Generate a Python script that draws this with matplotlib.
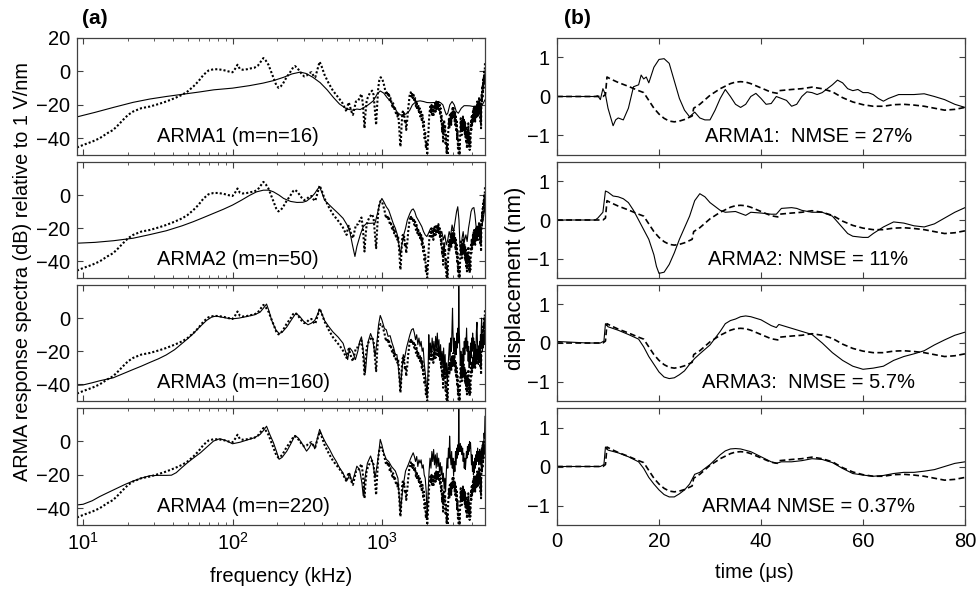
# %% Modules

import matplotlib
matplotlib.use("Agg")
import matplotlib.pyplot as plt
from matplotlib.ticker import LogLocator, NullFormatter, FixedLocator

plt.rcParams["font.family"] = ["Liberation Sans", "DejaVu Sans"]
plt.rcParams["mathtext.fontset"] = "custom"
plt.rcParams["mathtext.rm"] = "Liberation Sans"
plt.rcParams["mathtext.it"] = "Liberation Sans:italic"

# %% Data: (a) response spectra, frequency in kHz, level in dB

freq_meas = [9.1, 10, 11.5, 12.9, 14.5, 15.9, 17.2, 18.5, 20, 21.6, 24.5, 28, 32, 36, 41, 46, 50, 54.7, 59, 64,
             69, 74.6, 80, 87, 94, 100, 104, 108, 112, 117, 125, 132, 140, 148, 155, 161, 167, 174, 181, 188,
             196, 203, 210, 217, 230, 243, 255, 262, 272, 290, 302, 313, 325, 338, 348, 358, 370, 383, 395, 413,
             440, 470, 500, 520, 545, 565, 580, 592, 600, 612, 625, 640, 655, 670, 695, 715, 730, 745, 755, 765,
             775, 790, 805, 830, 860, 880, 900, 915, 930, 945, 960, 980,
             1000, 1010, 1025, 1040, 1055, 1070, 1085, 1100, 1115, 1130, 1145, 1160, 1175, 1190, 1205, 1220, 1240, 1255, 1270, 1285,
             1300, 1315, 1330, 1340, 1350, 1365, 1380, 1395, 1410, 1425, 1440, 1455, 1470, 1485, 1500, 1515, 1530, 1545, 1560, 1575,
             1590, 1610, 1630, 1650, 1670, 1690, 1710, 1730, 1750, 1770, 1790, 1810, 1830, 1850, 1870, 1890, 1910, 1930, 1950, 1970,
             1990, 2010, 2030, 2050, 2070, 2090, 2110, 2130, 2150, 2170, 2190, 2210, 2230, 2250, 2270, 2290, 2310, 2330, 2350, 2370,
             2390, 2410, 2430, 2450, 2470, 2490, 2510, 2530, 2550, 2570, 2590, 2610, 2630, 2650, 2670, 2690, 2710, 2730, 2750, 2770,
             2790, 2810, 2830, 2850, 2870, 2890, 2910, 2930, 2950, 2970, 2990, 3010, 3030, 3050, 3070, 3090, 3110, 3130, 3150, 3170,
             3190, 3210, 3230, 3250, 3270, 3290, 3310, 3330, 3350, 3370, 3390, 3410, 3430, 3450, 3470, 3490, 3510, 3530, 3550, 3570,
             3590, 3610, 3630, 3650, 3670, 3690, 3710, 3730, 3750, 3770, 3790, 3810, 3830, 3850, 3870, 3890, 3910, 3930, 3950, 3970,
             3990, 4010, 4030, 4050, 4070, 4090, 4110, 4130, 4150, 4170, 4190, 4210, 4230, 4250, 4270, 4290, 4310, 4330, 4350, 4370,
             4390, 4410, 4430, 4450, 4470, 4490, 4510, 4530, 4550, 4570, 4590, 4610, 4630, 4650, 4670, 4690, 4710, 4730, 4750, 4770,
             4790, 4810, 4830, 4850, 4870, 4890, 4900]
db_meas = [-45.5, -44, -42, -40, -37, -35, -32, -29, -26, -24, -22, -21, -19.5, -18, -16, -14, -12, -9, -6, -2,
           0.5, 1.3, 1.3, 0.8, 0, -0.5, 1.5, 4, 1.5, 1, 1.3, 1.8, 2.2, 3.5, 6, 8, 6.5, 4, 0, -4,
           -8, -9.8, -9, -7.5, -3.5, -0.5, 2.5, 3.2, 2, -1.5, -3, -2.5, -1, -0.5, -2.5, -3.5, 1, 5.8, 3, -2,
           -7, -11.5, -14.5, -16.5, -19, -22, -24, -20, -18.5, -21, -24, -26, -22, -18, -17.5, -15, -13.5, -19, -27, -34,
           -26, -18, -15.5, -13, -11.5, -14, -24, -32, -20, -10, -5.5, -3.5,
           -4, -5, -7, -9, -12, -14, -12, -15, -13, -18, -16, -19, -21, -19, -23, -21, -25, -24, -27, -25,
           -31, -38, -45, -42, -35, -27, -24, -27, -25, -31, -29, -35, -31, -27, -22, -19, -15, -13, -12.5, -15,
           -13, -16, -14, -18, -16, -21, -18, -23, -20, -25, -22, -27, -24, -30, -26, -34, -30, -40, -36, -46,
           -42, -50, -44, -36, -28, -24, -21, -25, -20, -26, -21, -27, -20, -25, -19, -24, -18, -23, -18, -22,
           -17.5, -23, -19, -26, -22, -30, -26, -36, -31, -42, -35, -29, -37, -32, -44, -38, -49, -43, -50, -40,
           -33, -28, -34, -26, -31, -25, -32, -24, -29, -22, -27, -21, -28, -23, -30, -25, -33, -27, -36, -30,
           -41, -35, -46, -40, -50, -44, -50, -42, -34, -28, -36, -30, -38, -29, -35, -27, -34, -28, -36, -30,
           -38, -31, -40, -33, -43, -36, -46, -38, -35, -41, -31, -39, -45, -37, -47, -40, -45, -36, -30, -35,
           -27, -33, -26, -31, -24, -30, -22, -28, -21, -29, -22, -30, -23, -27, -20, -28, -22, -26, -18, -25,
           -19, -27, -20, -24, -16, -23, -17, -25, -19, -30, -22, -34, -20, -14, -18, -10, -16, -8, -13, -5,
           -10, -3, -7, 0, -4, 3, 5]

freq_arma1 = [9.1, 12, 16, 21.6, 28, 36, 46, 60, 75, 100, 130, 160, 188, 220, 250, 284, 310, 345, 386, 430,
              474, 520, 582, 640, 680, 716, 760, 810, 876, 930, 975, 1030, 1080, 1135, 1200, 1270, 1330, 1393, 1450, 1530,
              1600, 1700, 1800, 1900, 2000, 2107, 2250, 2460, 2560, 2650, 2700, 2760, 2850, 2950, 3050, 3150, 3250, 3400, 3550, 3700,
              3889, 4100, 4300, 4500, 4700, 4900]
db_arma1 = [-27.2, -24.5, -21.5, -18.5, -16.5, -15, -13.7, -12.3, -11, -10, -8.5, -7, -5.5, -3.5, -1.5, -0.4, -1.2, -3.5, -6.7, -11,
            -15.6, -19.5, -22.5, -23.2, -22.5, -22.8, -21.5, -20, -17.6, -13.5, -11.7, -13, -15.5, -17.6, -21, -24.5, -26, -26, -25.5, -23.5,
            -20, -18, -17.6, -18, -18.6, -18.7, -18.6, -18.6, -20, -24, -26, -25, -20, -18, -20, -24, -25, -22, -20.5, -20.5,
            -20.6, -21, -22, -24, -20, -17]

freq_arma2 = [9.1, 12, 16, 21.6, 28, 36, 46, 54.7, 64, 74.6, 87, 100, 115, 131, 145, 161, 175, 188, 205, 220,
              245, 270, 295, 313, 335, 355, 370, 383, 395, 413, 440, 470, 510, 550, 585, 610, 635, 660, 680, 716,
              750, 790, 840, 900, 940, 975, 1000, 1030, 1070, 1110, 1150, 1190, 1230, 1270, 1300, 1330, 1360, 1400, 1440, 1480,
              1540, 1580, 1620, 1660, 1700, 1750, 1800, 1850, 1900, 1950, 2000, 2050, 2120, 2180, 2240, 2300, 2380, 2460, 2520, 2580,
              2640, 2700, 2760, 2820, 2880, 2950, 3020, 3100, 3160, 3220, 3280, 3330, 3380, 3440, 3500, 3560, 3650, 3720, 3800, 3880,
              3950, 4030, 4130, 4200, 4280, 4360, 4450, 4550, 4650, 4750, 4850, 4900]
db_arma2 = [-29, -28.5, -27.5, -26, -23.8, -21.5, -18.5, -16, -13.5, -11, -8.5, -6, -3, 0, 2, 3, 3, 2, 0, -2,
            -3.8, -4.4, -4.3, -3.6, -1.5, 1, 3.5, 5, 2, -3, -5.5, -8, -11, -14, -18, -22, -30, -37, -31, -24,
            -19, -17, -17, -16.8, -10, -4, -2, -4, -7, -9, -13, -17, -20, -24, -30, -36, -30, -24, -20, -15,
            -11, -9, -8.3, -10, -13, -15, -17, -19, -22, -24, -25, -23, -20, -22, -19, -23, -20, -24, -22, -27,
            -24, -30, -27, -22, -25, -18, -22, -15, -10, -7, -15, -30, -35, -26, -22, -28, -24, -28, -20, -15,
            -10, -8, -7.5, -12, -20, -26, -22, -28, -20, -15, -10, -6]

freq_arma3 = [9.1, 10, 11.5, 12.9, 14.5, 15.9, 18.5, 21.6, 24.5, 28, 32, 36, 41, 46, 50, 54.7, 60, 67, 73, 78,
              85, 92, 100, 110, 125, 140, 153, 161, 169, 176, 183, 195, 205, 215, 231, 248, 266, 282, 300, 320,
              338, 355, 370, 383, 395, 413, 440, 470, 510, 550, 575, 590, 600, 610, 635, 665, 690, 710, 730, 750,
              775, 790, 810, 840, 870, 900, 925, 950, 975, 1000, 1040, 1070, 1100, 1135, 1170,
              1200, 1230, 1260, 1290, 1330, 1360, 1390, 1420, 1460, 1500, 1540, 1580, 1620, 1650, 1680, 1710, 1740, 1770, 1800, 1830,
              1860, 1890, 1920, 1950, 1980, 2010, 2040, 2060, 2080, 2110, 2140, 2170, 2200, 2230, 2260, 2290, 2320, 2350, 2380, 2410,
              2440, 2470, 2500, 2530, 2560, 2590, 2620, 2650, 2680, 2710, 2740, 2770, 2800, 2830, 2860, 2890, 2920, 2950, 2970, 2990,
              3020, 3050, 3080, 3110, 3140, 3170, 3200, 3230, 3250, 3270, 3290, 3320, 3350, 3380, 3410, 3440, 3470, 3500, 3530, 3560,
              3590, 3620, 3650, 3690, 3720, 3750, 3780, 3810, 3840, 3870, 3900, 3930, 3960, 3990, 4020, 4050, 4080, 4110, 4140, 4170,
              4200, 4230, 4260, 4290, 4330, 4360, 4390, 4420, 4450, 4480, 4510, 4540, 4570, 4600, 4630, 4650, 4680, 4710, 4740, 4770,
              4800, 4830, 4860, 4900]
db_arma3 = [-40.5, -40.3, -39, -37.8, -36.8, -36, -33.5, -31, -29, -26.7, -24.5, -22.2, -19, -15.2, -12.5, -9.3, -5.5, -1.4, 0.8, 1.2,
            0.6, 0, -0.4, 0, 1, 2, 3.6, 6, 8.5, 4, -1.4, -7, -9.3, -8.5, -5.3, -1, 3, 1, -2, -4,
            -3, -1.4, 2, 5.5, 3, -1.4, -5, -8.3, -11.5, -15.2, -21, -25, -21, -18, -20, -25, -20, -14, -11.3, -20,
            -33, -24, -14, -9.3, -13, -23, -15, -4, 1.6, -1, -6.3, -7, -11, -10.6, -15,
            -18, -22, -22, -30, -43, -32, -22, -24, -18, -14, -10, -7, -6.3, -9, -13, -10, -16, -12, -17, -14,
            -20, -18, -27, -33, -40, -47, -30, -10, -25, -15, -22, -12, -20, -14, -24, -11, -18, -9, -20, -13,
            -25, -16, -28, -20, -30, -18, -33, -22, -36, -27, -40, -30, -22, -15, -25, -12, -20, -5, 6, -8,
            -20, -12, -24, -14, -22, -9, -18, -6, -15, 22, -5, -18, -28, -20, -32, -22, -30, -18, -26, -14,
            -22, -12, -18, -6, -20, -14, -26, -17, -30, -20, -28, -15, -24, -12, -20, -9, -18, -12, -24, -14,
            -26, -16, -22, -8, -2.5, -14, -20, -28, -18, -24, -14, -22, -10, -18, -5, 0, -12, -20, -12, -18,
            -10, -16, -8, -15]

freq_arma4 = [9.1, 10, 11.5, 12.9, 14.5, 16.9, 19, 21.6, 24.5, 28, 32, 36, 39, 42, 46, 50, 55, 61, 68, 74.6,
              82, 90, 100, 112, 125, 140, 153, 161, 169, 178, 188, 197, 205, 215, 231, 247, 262, 276, 290, 300,
              313, 325, 338, 347, 355, 368, 383, 400, 420, 445, 470, 495, 520, 550, 580, 595, 610, 630, 650, 680,
              710, 735, 750, 770, 800, 840, 870, 900, 930, 955, 975, 1000, 1030, 1070, 1110, 1160,
              1230, 1280, 1330, 1380, 1440, 1500, 1560, 1620, 1650, 1680, 1710, 1740, 1770, 1800, 1830, 1860, 1890, 1920, 1950, 1980,
              2010, 2040, 2070, 2100, 2130, 2160, 2190, 2220, 2250, 2280, 2310, 2340, 2370, 2400, 2430, 2460, 2490, 2520, 2550, 2580,
              2610, 2640, 2670, 2700, 2730, 2760, 2790, 2820, 2840, 2870, 2900, 2930, 2960, 2990, 3020, 3050, 3080, 3110, 3140, 3170,
              3200, 3230, 3250, 3270, 3290, 3320, 3350, 3380, 3410, 3440, 3470, 3500, 3530, 3560, 3590, 3620, 3650, 3680, 3710, 3740,
              3770, 3800, 3830, 3860, 3890, 3920, 3950, 3980, 4010, 4040, 4070, 4100, 4130, 4160, 4190, 4220, 4250, 4280, 4310, 4340,
              4370, 4400, 4430, 4460, 4490, 4520, 4550, 4580, 4610, 4640, 4670, 4700, 4730, 4760, 4790, 4830, 4860, 4900]
db_arma4 = [-38, -37.6, -35.5, -33, -30.8, -28, -25.8, -23.7, -22, -20.5, -20.3, -20.3, -20.2, -18.7, -15.5, -12.7, -9.8, -6.8, -3, 0.2,
            1.6, 0.6, -1.4, -0.5, 0.8, 2.2, 4.2, 6.5, 9.1, 4, -0.8, -6, -10.7, -9.5, -5.8, -1, 3.6, 2, -0.8, -3,
            -5.8, -4, -1.2, -2, -4.4, 1, 7.2, 3, -0.8, -4.5, -8.7, -12, -15.7, -19, -23.7, -22, -19.5, -24.7, -21, -14.8,
            -17, -25, -32.6, -22, -13, -8.7, -13, -21.7, -14, -6, 1.2, -2, -7, -10.7, -12, -15,
            -17.7, -22, -42.5, -28, -17.7, -14, -10, -6.8, -9, -12, -9, -15, -11, -13, -11, -16, -14, -20, -22, -30,
            -46.5, -30, -18, -10, -16, -6, -12, -4.8, -14, -8, -16, -7, -15, -10, -18, -12.7, -20, -15, -24, -19,
            -28.6, -22, -30, -18, -10, -16, -4, -10, 3.2, -8, -14, -6, -16, -10, -20.7, -12, -18, -6, -14, -4,
            -10, -2, -8, 22, -2, -6, -1.2, -6, -2.8, -8, -4, -12, -7, -16, -10, -16.7, -12, -6, -10, -3,
            -8, -2, -6, 0, -4, -0.8, -8, -14, -8, -18, -12, -20, -14, -18.7, -10, -16, -8, -14, -6, -12,
            -4, -10, -6, -14, -8, -4.8, -12, -6, -14, -4, -10, -2, -8, 0, -6, 5, 2, 15]

spectra = [(freq_arma1, db_arma1), (freq_arma2, db_arma2), (freq_arma3, db_arma3), (freq_arma4, db_arma4)]
labels_a = ["ARMA1 (m=n=16)", "ARMA2 (m=n=50)", "ARMA3 (m=n=160)", "ARMA4 (m=n=220)"]

# %% Data: (b) displacement, time in us, displacement in nm

t_meas = [0, 5, 9.0, 9.5, 9.8, 10.5, 12, 14, 16, 17, 18, 19, 20, 21, 22, 23, 24, 25, 26, 26.5,
          26.8, 28, 30, 32, 34, 35, 36, 37, 38, 40, 42, 43.3, 43.6, 46, 48, 50, 52, 54, 56, 58,
          60, 62, 64, 66, 68, 70, 72, 74, 76, 78, 80]
d_meas = [0, 0, 0, 0.05, 0.5, 0.45, 0.36, 0.26, 0.15, 0.1, -0.1, -0.3, -0.45, -0.56, -0.63, -0.65, -0.63, -0.59, -0.53, -0.5,
          -0.3, -0.2, 0.03, 0.2, 0.33, 0.37, 0.38, 0.37, 0.33, 0.22, 0.11, 0.08, 0.15, 0.18, 0.2, 0.24, 0.2, 0.12, -0.03, -0.14,
          -0.21, -0.25, -0.25, -0.21, -0.2, -0.22, -0.25, -0.3, -0.35, -0.33, -0.28]

t_arma1 = [0, 7.5, 8, 8.5, 9, 9.5, 10, 11, 11.5, 12, 13, 14, 15, 16, 16.5, 17, 17.5, 18, 19, 20,
           21, 22, 23, 24, 25, 26, 27, 28, 29, 30, 31, 32, 33, 34, 35, 36, 37, 38, 39, 40,
           41, 42, 43, 44, 45, 46, 47, 48, 49, 50, 51, 52, 53, 54, 55, 56, 57, 58, 59, 60,
           61, 62, 63, 64, 65, 66, 67, 68, 70, 72, 74, 76, 78, 80]
d_arma1 = [0, 0, 0.02, -0.08, 0.2, 0.05, -0.3, -0.75, -0.6, -0.55, -0.6, -0.3, 0.25, 0.3, 0.55, 0.45, 0.5, 0.35, 0.75, 0.95,
           0.97, 0.85, 0.4, -0.05, -0.35, -0.52, -0.4, -0.55, -0.6, -0.6, -0.35, -0.05, 0.18, 0.0, -0.2, -0.28, -0.2, 0.0, 0.08, -0.05,
           -0.2, -0.18, 0.0, -0.05, -0.1, -0.25, -0.2, 0.0, 0.12, 0.1, 0.05, 0.1, 0.2, 0.3, 0.42, 0.35, 0.2, 0.15, 0.18, 0.1,
           0.1, 0.05, -0.05, -0.12, -0.05, 0.0, 0.05, 0.05, 0.05, 0.07, 0.0, -0.08, -0.2, -0.28]

t_arma2 = [0, 7.5, 8, 9, 9.5, 10, 11, 12, 13, 14, 15, 16, 17, 18, 19, 19.5, 20, 21, 22, 23,
           24, 25, 26, 27, 28, 29, 30, 31, 32, 33, 35, 37, 38, 40, 42, 43, 44, 46, 47, 48,
           50, 52, 54, 56, 57, 58, 60, 61, 62, 64, 66, 68, 70, 72, 74, 76, 78, 80]
d_arma2 = [0, 0, 0.05, 0.2, 0.75, 0.72, 0.62, 0.6, 0.55, 0.45, 0.25, 0.0, -0.25, -0.5, -0.9, -1.2, -1.38, -1.35, -1.15, -0.85,
           -0.5, -0.2, 0.1, 0.5, 0.68, 0.6, 0.45, 0.35, 0.25, 0.2, 0.22, 0.12, 0.2, 0.18, 0.15, 0.15, 0.3, 0.32, 0.3, 0.25,
           0.2, 0.2, 0.1, -0.2, -0.35, -0.42, -0.45, -0.45, -0.35, -0.18, -0.05, -0.08, -0.15, -0.18, -0.1, 0.05, 0.2, 0.32]

t_arma3 = [0, 3, 6, 8.5, 9.2, 9.5, 10, 12, 14, 16, 17, 18, 19, 20, 21, 22, 23, 24, 25, 26,
           27, 28, 30, 32, 33, 34, 35, 36, 37, 38, 40, 42, 43, 43.5, 45, 46, 48, 50, 52, 54,
           56, 58, 60, 62, 64, 66, 68, 70, 72, 74, 76, 78, 80]
d_arma3 = [0.04, 0.02, 0.0, 0.0, 0.05, 0.5, 0.42, 0.33, 0.22, 0.1, -0.1, -0.35, -0.55, -0.75, -0.88, -0.92, -0.9, -0.82, -0.72, -0.55,
           -0.4, -0.28, -0.05, 0.3, 0.5, 0.58, 0.62, 0.68, 0.7, 0.68, 0.6, 0.45, 0.4, 0.48, 0.42, 0.38, 0.3, 0.22, 0.0, -0.25,
           -0.45, -0.6, -0.68, -0.65, -0.6, -0.45, -0.35, -0.28, -0.2, -0.05, 0.08, 0.2, 0.28]

t_arma4 = [0, 5, 8.5, 9.2, 9.5, 10, 12, 14, 16, 17, 18, 19, 20, 21, 22, 23, 24, 25, 26, 27,
           28, 30, 32, 33, 34, 35, 36, 38, 40, 42, 43, 44, 46, 48, 50, 52, 54, 56, 58, 60,
           62, 64, 66, 68, 70, 72, 74, 76, 78, 80]
d_arma4 = [0, 0, 0, 0.05, 0.5, 0.42, 0.35, 0.25, 0.12, -0.05, -0.28, -0.45, -0.6, -0.72, -0.78, -0.78, -0.7, -0.6, -0.45, -0.2,
           -0.15, 0.05, 0.3, 0.4, 0.45, 0.46, 0.45, 0.38, 0.25, 0.12, 0.08, 0.12, 0.12, 0.15, 0.2, 0.18, 0.1, -0.05, -0.18, -0.22,
           -0.25, -0.23, -0.18, -0.15, -0.15, -0.12, -0.08, 0.0, 0.08, 0.12]

responses = [(t_arma1, d_arma1), (t_arma2, d_arma2), (t_arma3, d_arma3), (t_arma4, d_arma4)]
labels_b = ["ARMA1:  NMSE = 27%", "ARMA2: NMSE = 11%", "ARMA3:  NMSE = 5.7%", "ARMA4 NMSE = 0.37%"]
label_b_x = [29.0, 29.6, 28.4, 28.4]

# %% Plot setup

W, H = 979, 591
tick_size = 14.5
label_size = 14.5
text_size = 14.5

fig = plt.figure(figsize = (W / 100, H / 100), dpi = 100)

panel_rows = [(38, 155), (162, 278), (285, 401), (408, 525)]
left_x = (77, 485)
right_x = (557, 965)

def rect(xr, yr):
    return [xr[0] / W, 1 - yr[1] / H, (xr[1] - xr[0]) / W, (yr[1] - yr[0]) / H]

def style_axes(ax):
    for spine in ax.spines.values():
        spine.set_color("0.25")
        spine.set_linewidth(0.9)
    ax.tick_params(which = "both", direction = "in", top = True, right = True, labelsize = tick_size, colors = "0.25", labelcolor = "black")
    ax.tick_params(which = "major", length = 4, pad = 5)
    ax.tick_params(which = "minor", length = 2.5)

# Left column: response spectra

for idx, (row, (freq, db)) in enumerate(zip(panel_rows, spectra)):
    ax = fig.add_axes(rect(left_x, row))
    ax.plot(freq_meas, db_meas, color = "black", linestyle = (0, (1, 1)), linewidth = 1.5)
    ax.plot(freq, db, color = "black", linestyle = "-", linewidth = 0.8)
    ax.set_xscale("log")
    ax.set_xlim(9.1, 4900)
    ax.set_ylim(-50, 20)
    ax.xaxis.set_major_locator(LogLocator(base = 10))
    ax.xaxis.set_minor_locator(LogLocator(base = 10, subs = range(2, 10)))
    ax.xaxis.set_minor_formatter(NullFormatter())
    ax.yaxis.set_major_locator(FixedLocator([-40, -20, 0, 20] if idx == 0 else [-40, -20, 0]))
    style_axes(ax)
    if idx < 3:
        ax.set_xticklabels([])
    ax.text(31, -39, labels_a[idx], fontsize = text_size, ha = "left", va = "center")

# Right column: displacement

for idx, (row, (tt, dd)) in enumerate(zip(panel_rows, responses)):
    ax = fig.add_axes(rect(right_x, row))
    ax.plot(t_meas, d_meas, color = "black", linestyle = (0, (3.5, 2)), linewidth = 1.2)
    ax.plot(tt, dd, color = "black", linestyle = "-", linewidth = 0.8)
    ax.set_xlim(0, 80)
    ax.set_ylim(-1.5, 1.5)
    ax.set_xticks([0, 20, 40, 60, 80])
    ax.set_yticks([-1, 0, 1])
    style_axes(ax)
    if idx < 3:
        ax.set_xticklabels([])
    ax.text(label_b_x[idx], -1.02, labels_b[idx], fontsize = text_size, ha = "left", va = "center")

# Panel tags, axis labels

fig.text(82 / W, 1 - 18 / H, "(a)", fontsize = 15, fontweight = "bold", ha = "left", va = "center")
fig.text(564 / W, 1 - 18 / H, "(b)", fontsize = 15, fontweight = "bold", ha = "left", va = "center")
fig.text(23 / W, 1 - 272 / H, "ARMA response spectra (dB) relative to 1 V/nm", fontsize = 14.3, rotation = 90, ha = "center", va = "center")
fig.text(515 / W, 1 - 278 / H, "displacement (nm)", fontsize = 16, rotation = 90, ha = "center", va = "center")
fig.text(281 / W, 1 - 577 / H, "frequency (kHz)", fontsize = label_size, ha = "center", va = "center")
fig.text(754 / W, 1 - 573 / H, "time (\u03bcs)", fontsize = label_size, ha = "center", va = "center")

# %% Save

fig.savefig("out.png", dpi = 100)
